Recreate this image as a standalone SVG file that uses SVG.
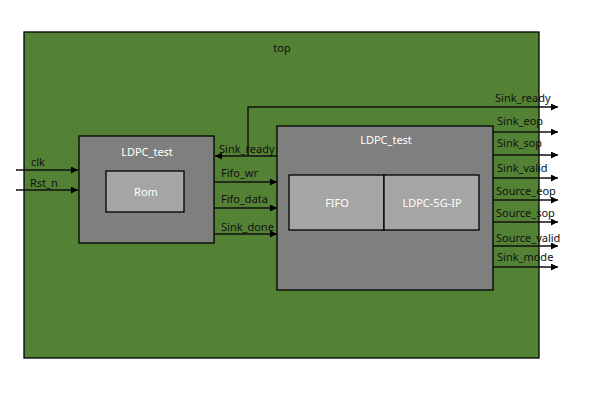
<svg xmlns="http://www.w3.org/2000/svg" width="589" height="416" viewBox="0 0 589 416">
<style>
.box{stroke:#000;stroke-width:1.3}
.w{stroke:#111;stroke-width:1.5;fill:none}
text{font-family:"Noto Sans","Open Sans","DejaVu Sans",sans-serif;font-size:11px}
.lbl{fill:#111}
.wt{fill:#fff;text-anchor:middle}
</style>
<defs>
<marker id="ah" viewBox="0 0 10 10" refX="10" refY="5" markerWidth="8" markerHeight="7" markerUnits="userSpaceOnUse" orient="auto">
<path d="M0,0 L10,5 L0,10 z" fill="#000"/>
</marker>
</defs>
<rect width="589" height="416" fill="#fff"/>
<g id="top">
<rect class="box" x="24" y="32" width="515" height="326" fill="#548235" stroke-width="1.5"/>
<text x="282" y="52" text-anchor="middle" fill="#111">top</text>
</g>
<g id="ldpc_test_left">
<rect class="box" x="79" y="136" width="135" height="107" fill="#7f7f7f"/>
<text class="wt" x="147" y="156">LDPC_test</text>
</g>
<g id="rom">
<rect class="box" x="106" y="171" width="78" height="41" fill="#a5a5a5"/>
<text class="wt" x="146" y="196">Rom</text>
</g>
<g id="ldpc_test_right">
<rect class="box" x="277" y="126" width="216" height="164" fill="#7f7f7f"/>
<text class="wt" x="386" y="144">LDPC_test</text>
</g>
<g id="fifo">
<rect class="box" x="289" y="175" width="95" height="55" fill="#a5a5a5"/>
<text class="wt" x="337" y="207">FIFO</text>
</g>
<g id="ldpc5gip">
<rect class="box" x="384" y="175" width="95" height="55" fill="#a5a5a5"/>
<text class="wt" x="432" y="207">LDPC-5G-IP</text>
</g>
<g id="connectors">
<path class="w" d="M16,170 H78" marker-end="url(#ah)"/>
<path class="w" d="M16,190 H78" marker-end="url(#ah)"/>
<path class="w" d="M277,156 H215" marker-end="url(#ah)"/>
<path class="w" d="M248,156 V107 H558" marker-end="url(#ah)"/>
<path class="w" d="M214,182 H277" marker-end="url(#ah)"/>
<path class="w" d="M214,208 H277" marker-end="url(#ah)"/>
<path class="w" d="M214,234 H277" marker-end="url(#ah)"/>
<path class="w" d="M493,132 H558" marker-end="url(#ah)"/>
<path class="w" d="M493,155 H558" marker-end="url(#ah)"/>
<path class="w" d="M493,178 H558" marker-end="url(#ah)"/>
<path class="w" d="M493,200 H558" marker-end="url(#ah)"/>
<path class="w" d="M493,222 H558" marker-end="url(#ah)"/>
<path class="w" d="M493,246 H558" marker-end="url(#ah)"/>
<path class="w" d="M493,267 H558" marker-end="url(#ah)"/>
<text class="lbl" x="31" y="166">clk</text>
<text class="lbl" x="30" y="187">Rst_n</text>
<text class="lbl" x="219" y="153">Sink_ready</text>
<text class="lbl" x="221" y="177">Fifo_wr</text>
<text class="lbl" x="221" y="203">Fifo_data</text>
<text class="lbl" x="221" y="231">Sink_done</text>
<text class="lbl" x="495" y="102">Sink_ready</text>
<text class="lbl" x="497" y="125">Sink_eop</text>
<text class="lbl" x="497" y="147">Sink_sop</text>
<text class="lbl" x="497" y="172">Sink_valid</text>
<text class="lbl" x="496" y="195">Source_eop</text>
<text class="lbl" x="496" y="217">Source_sop</text>
<text class="lbl" x="496" y="242">Source_valid</text>
<text class="lbl" x="497" y="261">Sink_mode</text>
</g>
</svg>
